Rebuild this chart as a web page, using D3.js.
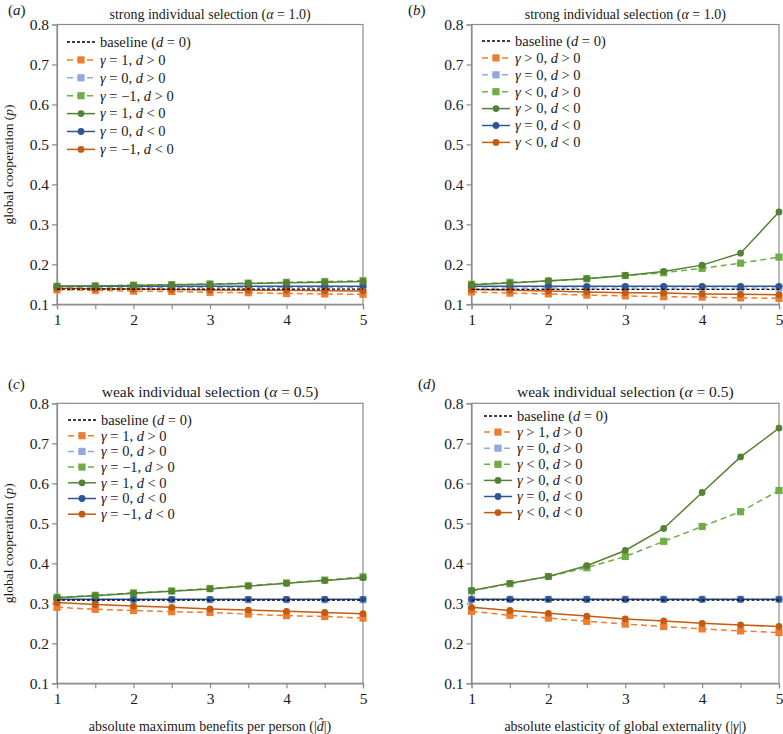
<!DOCTYPE html>
<html><head><meta charset="utf-8">
<script src="https://cdn.jsdelivr.net/npm/d3@7"></script>
<style>
html,body{margin:0;padding:0;background:#fff;}
svg{display:block;font-family:"Liberation Serif","Times New Roman",serif;}
</style></head>
<body><svg id="chart" width="783" height="734"></svg>
<script>
// ---------- data ----------
const xValues = [1, 1.5, 2, 2.5, 3, 3.5, 4, 4.5, 5];
const xTickLabels = [1, 2, 3, 4, 5];
const yTicks = [0.1, 0.2, 0.3, 0.4, 0.5, 0.6, 0.7, 0.8];

// panel (a): strong selection, vs |d|
const aBaseline = [0.138, 0.138, 0.138, 0.138, 0.138, 0.138, 0.138, 0.138, 0.138];
const aPosDPlus = [0.136, 0.135, 0.133, 0.132, 0.130, 0.129, 0.127, 0.126, 0.125];
const aZeroDPlus = [0.142, 0.142, 0.142, 0.142, 0.142, 0.142, 0.142, 0.142, 0.142];
const aNegDPlus = [0.145, 0.146, 0.148, 0.149, 0.151, 0.153, 0.155, 0.157, 0.159];
const aPosDMinus = [0.145, 0.146, 0.147, 0.149, 0.150, 0.152, 0.154, 0.155, 0.157];
const aZeroDMinus = [0.145, 0.145, 0.145, 0.145, 0.145, 0.145, 0.145, 0.145, 0.145];
const aNegDMinus = [0.140, 0.139, 0.138, 0.137, 0.136, 0.135, 0.135, 0.134, 0.133];

// panel (b): strong selection, vs |gamma|
const bBaseline = [0.1375, 0.1375, 0.1375, 0.1375, 0.1375, 0.1375, 0.1375, 0.1375, 0.1375];
const bPosDPlus = [0.131, 0.128, 0.126, 0.123, 0.121, 0.119, 0.118, 0.116, 0.115];
const bZeroDPlus = [0.141, 0.141, 0.141, 0.141, 0.141, 0.141, 0.141, 0.141, 0.141];
const bNegDPlus = [0.150, 0.155, 0.158, 0.164, 0.172, 0.179, 0.190, 0.203, 0.218];
const bPosDMinus = [0.149, 0.153, 0.159, 0.164, 0.172, 0.182, 0.198, 0.228, 0.331];
const bZeroDMinus = [0.145, 0.145, 0.145, 0.145, 0.145, 0.145, 0.145, 0.145, 0.145];
const bNegDMinus = [0.137, 0.135, 0.133, 0.131, 0.129, 0.128, 0.126, 0.125, 0.124];

// panel (c): weak selection, vs |d|
const cBaseline = [0.308, 0.308, 0.308, 0.308, 0.308, 0.308, 0.308, 0.308, 0.308];
const cPosDPlus = [0.290, 0.285, 0.282, 0.279, 0.277, 0.273, 0.269, 0.267, 0.263];
const cZeroDPlus = [0.309, 0.309, 0.309, 0.309, 0.309, 0.309, 0.309, 0.309, 0.309];
const cNegDPlus = [0.315, 0.320, 0.326, 0.331, 0.337, 0.344, 0.351, 0.358, 0.366];
const cPosDMinus = [0.314, 0.319, 0.325, 0.330, 0.336, 0.343, 0.350, 0.357, 0.364];
const cZeroDMinus = [0.310, 0.310, 0.310, 0.310, 0.310, 0.310, 0.310, 0.310, 0.310];
const cNegDMinus = [0.302, 0.297, 0.293, 0.290, 0.286, 0.283, 0.280, 0.277, 0.274];

// panel (d): weak selection, vs |gamma|
const dBaseline = [0.308, 0.308, 0.308, 0.308, 0.308, 0.308, 0.308, 0.308, 0.308];
const dPosDPlus = [0.280, 0.270, 0.263, 0.255, 0.248, 0.242, 0.236, 0.231, 0.227];
const dZeroDPlus = [0.310, 0.310, 0.310, 0.310, 0.310, 0.310, 0.310, 0.310, 0.310];
const dNegDPlus = [0.331, 0.349, 0.367, 0.389, 0.417, 0.455, 0.492, 0.529, 0.582];
const dPosDMinus = [0.332, 0.350, 0.367, 0.394, 0.432, 0.487, 0.577, 0.666, 0.738];
const dZeroDMinus = [0.310, 0.310, 0.310, 0.310, 0.310, 0.310, 0.310, 0.310, 0.310];
const dNegDMinus = [0.290, 0.282, 0.275, 0.268, 0.261, 0.256, 0.250, 0.246, 0.242];

const legendAC = ["baseline ({d} = 0)", "{γ} = 1, {d} > 0", "{γ} = 0, {d} > 0", "{γ} = −1, {d} > 0",
                  "{γ} = 1, {d} < 0", "{γ} = 0, {d} < 0", "{γ} = −1, {d} < 0"];
const legendB = ["baseline ({d} = 0)", "{γ} > 0, {d} > 0", "{γ} = 0, {d} > 0", "{γ} < 0, {d} > 0",
                 "{γ} > 0, {d} < 0", "{γ} = 0, {d} < 0", "{γ} < 0, {d} < 0"];
const legendD = ["baseline ({d} = 0)", "{γ} > 1, {d} > 0", "{γ} = 0, {d} > 0", "{γ} < 0, {d} > 0",
                 "{γ} > 0, {d} < 0", "{γ} = 0, {d} < 0", "{γ} < 0, {d} < 0"];

// ---------- styles ----------
const styles = [
  {color: "#000000", dash: "3,2", marker: null, width: 1.3},
  {color: "#ED7D31", dash: "6,4", marker: "square", width: 1.5},
  {color: "#8FAADC", dash: "6,4", marker: "square", width: 1.5},
  {color: "#70AD47", dash: "6,4", marker: "square", width: 1.5},
  {color: "#548235", dash: null, marker: "circle", width: 1.5},
  {color: "#2F5597", dash: null, marker: "circle", width: 1.5},
  {color: "#C55A11", dash: null, marker: "circle", width: 1.5}
];
const drawOrder = [2, 1, 3, 5, 6, 4, 0];

const panels = [
  {tag: "a", series: [aBaseline, aPosDPlus, aZeroDPlus, aNegDPlus, aPosDMinus, aZeroDMinus, aNegDMinus],
   legend: legendAC, title: "strong individual selection ({α} = 1.0)", titleSize: 14,
   x0: 57, x1: 363, y0: 24.5, y1: 304.3, legX: 67, legY: 42, legStep: 17.9, ylabel: true, xlabel: null,
   tagX: 8, tagY: 15},
  {tag: "b", series: [bBaseline, bPosDPlus, bZeroDPlus, bNegDPlus, bPosDMinus, bZeroDMinus, bNegDMinus],
   legend: legendB, title: "strong individual selection ({α} = 1.0)", titleSize: 14,
   x0: 471.5, x1: 779, y0: 24.5, y1: 304.3, legX: 482, legY: 41, legStep: 16.9, ylabel: false, xlabel: null,
   tagX: 408, tagY: 15},
  {tag: "c", series: [cBaseline, cPosDPlus, cZeroDPlus, cNegDPlus, cPosDMinus, cZeroDMinus, cNegDMinus],
   legend: legendAC, title: "weak individual selection ({α} = 0.5)", titleSize: 15.5,
   x0: 57, x1: 363, y0: 403.3, y1: 683.3, legX: 68, legY: 420, legStep: 15.7, ylabel: true,
   xlabel: "absolute maximum benefits per person (|{d̂}|)", tagX: 8, tagY: 389},
  {tag: "d", series: [dBaseline, dPosDPlus, dZeroDPlus, dNegDPlus, dPosDMinus, dZeroDMinus, dNegDMinus],
   legend: legendD, title: "weak individual selection ({α} = 0.5)", titleSize: 15.5,
   x0: 471.5, x1: 779, y0: 403.3, y1: 683.3, legX: 484, legY: 416, legStep: 16.1, ylabel: false,
   xlabel: "absolute elasticity of global externality (|{γ}|)", tagX: 418, tagY: 389}
];

const svg = d3.select("#chart");
const frameColor = "#8c8c8c";

function rich(sel, str) {
  const parts = str.split(/(\{[^}]*\})/).filter(s => s.length);
  parts.forEach(p => {
    if (p.startsWith("{")) sel.append("tspan").attr("font-style", "italic").text(p.slice(1, -1));
    else sel.append("tspan").text(p);
  });
  return sel;
}

function drawMarker(g, type, x, y, color) {
  if (type === "square") {
    g.append("rect").attr("x", x - 3.6).attr("y", y - 3.6).attr("width", 7.2).attr("height", 7.2)
      .attr("fill", color);
  } else if (type === "circle") {
    g.append("circle").attr("cx", x).attr("cy", y).attr("r", 3.4).attr("fill", color);
  }
}

panels.forEach(p => {
  const g = svg.append("g");
  const x = d3.scaleLinear().domain([1, 5]).range([p.x0, p.x1]);
  const y = d3.scaleLinear().domain([0.1, 0.8]).range([p.y1, p.y0]);

  // frame
  g.append("rect").attr("x", p.x0).attr("y", p.y0).attr("width", p.x1 - p.x0).attr("height", p.y1 - p.y0)
    .attr("fill", "none").attr("stroke", frameColor).attr("stroke-width", 1.2);

  // y axis
  const yAxis = d3.axisLeft(y).tickValues(yTicks).tickFormat(d3.format(".1f")).tickSize(5).tickPadding(3);
  const ya = g.append("g").attr("transform", `translate(${p.x0},0)`).call(yAxis);
  ya.select(".domain").attr("stroke", frameColor).attr("stroke-width", 1.2);
  ya.selectAll(".tick line").attr("stroke", frameColor).attr("stroke-width", 1.2);
  ya.selectAll(".tick text").attr("font-size", 15.5).attr("fill", "#1a1a1a")
    .attr("font-family", "'Liberation Serif','Times New Roman',serif");

  // x axis
  const xAxis = d3.axisBottom(x).tickValues(xValues)
    .tickFormat(d => xTickLabels.includes(d) ? String(d) : "").tickSize(5).tickPadding(5);
  const xa = g.append("g").attr("transform", `translate(0,${p.y1})`).call(xAxis);
  xa.select(".domain").attr("stroke", frameColor).attr("stroke-width", 1.2);
  xa.selectAll(".tick line").attr("stroke", frameColor).attr("stroke-width", 1.2);
  xa.selectAll(".tick text").attr("font-size", 15.5).attr("fill", "#1a1a1a")
    .attr("font-family", "'Liberation Serif','Times New Roman',serif");

  // series
  const line = d3.line().x((d, i) => x(xValues[i])).y(d => y(d));
  drawOrder.forEach(si => {
    const st = styles[si];
    const data = p.series[si];
    g.append("path").datum(data).attr("d", line).attr("fill", "none")
      .attr("stroke", st.color).attr("stroke-width", st.width)
      .attr("stroke-dasharray", st.dash);
    if (st.marker) data.forEach((v, i) => drawMarker(g, st.marker, x(xValues[i]), y(v), st.color));
  });

  // legend
  p.legend.forEach((lab, i) => {
    const st = styles[i];
    const ly = p.legY + i * p.legStep;
    g.append("line").attr("x1", p.legX).attr("x2", p.legX + 28).attr("y1", ly).attr("y2", ly)
      .attr("stroke", st.color).attr("stroke-width", st.width).attr("stroke-dasharray", st.dash);
    if (st.marker) drawMarker(g, st.marker, p.legX + 14, ly, st.color);
    const t = g.append("text").attr("x", p.legX + 33).attr("y", ly + 4.8).attr("font-size", 14.5)
      .attr("fill", "#1a1a1a");
    rich(t, lab);
  });

  // title
  const tt = g.append("text").attr("x", (p.x0 + p.x1) / 2).attr("y", p.y0 - 6).attr("text-anchor", "middle")
    .attr("font-size", p.titleSize).attr("fill", "#1a1a1a");
  rich(tt, p.title);

  // panel tag
  const tg = g.append("text").attr("x", p.tagX).attr("y", p.tagY).attr("font-size", 15).attr("fill", "#1a1a1a");
  rich(tg, `({${p.tag}})`);

  // y label
  if (p.ylabel) {
    const yl = g.append("text").attr("transform", `translate(13,${(p.y0 + p.y1) / 2}) rotate(-90)`)
      .attr("text-anchor", "middle").attr("font-size", 13.5).attr("fill", "#1a1a1a");
    rich(yl, "global cooperation ({p})");
  }
  if (p.xlabel) {
    const xl = g.append("text").attr("x", (p.x0 + p.x1) / 2).attr("y", p.y1 + 48).attr("text-anchor", "middle")
      .attr("font-size", 14).attr("fill", "#1a1a1a");
    rich(xl, p.xlabel);
  }
});
</script></body></html>
